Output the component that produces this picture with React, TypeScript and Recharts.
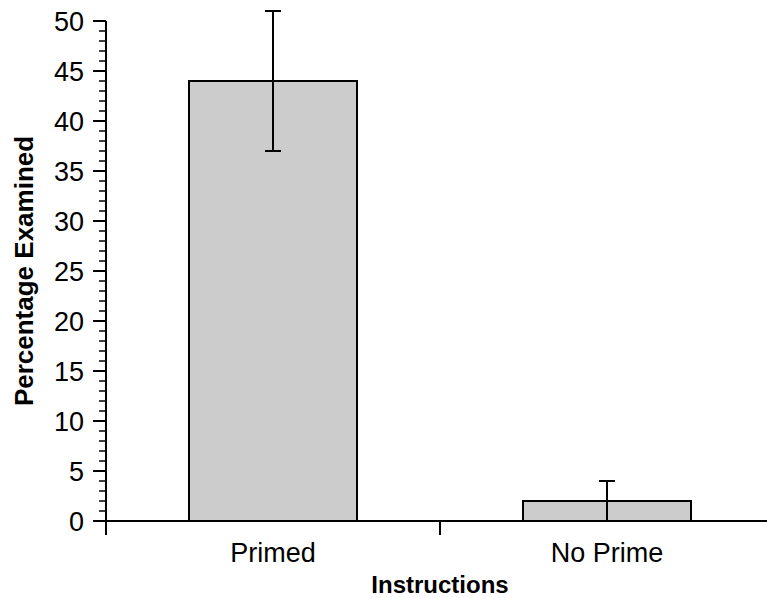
import React from 'react';
import { BarChart, Bar, XAxis, YAxis, ErrorBar } from 'recharts';

const categories = ['Primed', 'No Prime'];
const percentages = [44, 2];
const errorLow = [7, 2];
const errorHigh = [7, 2];
const majorTickValues = [0, 5, 10, 15, 20, 25, 30, 35, 40, 45, 50];
const yTicks = Array.from({ length: 51 }, (_, i) => i);

const data = categories.map((name, i) => ({
  name,
  value: percentages[i],
  err: [errorLow[i], errorHigh[i]],
}));

const CHART_W = 780;
const CHART_H = 598;
const MARGIN = { top: 21, right: 6, bottom: 0, left: 0 };
const Y_AXIS_W = 106;
const X_AXIS_H = 77;
const PLOT_W = CHART_W - MARGIN.left - MARGIN.right - Y_AXIS_W;
const BAND = PLOT_W / categories.length;
const FONT = '"Liberation Sans", Arial, Helvetica, sans-serif';

const YTick = (props: any) => {
  const { x, y, payload } = props;
  const v = payload.value;
  const major = majorTickValues.includes(v);
  return (
    <g>
      <line x1={x - (major ? 13 : 7)} y1={y} x2={x} y2={y} stroke="#000" strokeWidth={major ? 2 : 1.5} />
      {major && (
        <text x={x - 22} y={y} dy="0.36em" textAnchor="end" fontSize={27} fontFamily={FONT} fill="#000">
          {v}
        </text>
      )}
    </g>
  );
};

const XTick = (props: any) => {
  const { x, y, payload } = props;
  return (
    <g>
      <line x1={x - BAND / 2} y1={y} x2={x - BAND / 2} y2={y + 14} stroke="#000" strokeWidth={2} />
      <text x={x} y={y + 41} textAnchor="middle" fontSize={27} fontFamily={FONT} fill="#000">
        {payload.value}
      </text>
    </g>
  );
};

const XLabel = (props: any) => {
  const vb = props.viewBox || {};
  const cx = vb.x + vb.width / 2;
  return (
    <text x={cx} y={vb.y + 72} textAnchor="middle" fontSize={24} fontWeight="bold" fontFamily={FONT} fill="#000">
      Instructions
    </text>
  );
};

const YLabel = (props: any) => {
  const vb = props.viewBox || {};
  const cy = vb.y + vb.height / 2;
  const cx = 33;
  return (
    <text
      x={cx}
      y={cy}
      transform={`rotate(-90, ${cx}, ${cy})`}
      textAnchor="middle"
      fontSize={26}
      fontWeight="bold"
      fontFamily={FONT}
      fill="#000"
    >
      Percentage Examined
    </text>
  );
};

export default function App() {
  return (
    <div
      style={{
        position: 'absolute',
        left: 0,
        top: 0,
        width: 767,
        height: 598,
        overflow: 'hidden',
        background: '#fff',
      }}
    >
      <BarChart width={CHART_W} height={CHART_H} data={data} margin={MARGIN}>
        <XAxis
          dataKey="name"
          height={X_AXIS_H}
          axisLine={{ stroke: '#000', strokeWidth: 2 }}
          tickLine={false}
          tickSize={0}
          tickMargin={0}
          tick={<XTick />}
          interval={0}
          label={<XLabel />}
        />
        <YAxis
          width={Y_AXIS_W}
          domain={[0, 50]}
          ticks={yTicks}
          interval={0}
          allowDataOverflow
          axisLine={{ stroke: '#000', strokeWidth: 2 }}
          tickLine={false}
          tickSize={0}
          tickMargin={0}
          tick={<YTick />}
          label={<YLabel />}
        />
        <Bar dataKey="value" fill="#cccccc" stroke="#000" strokeWidth={2} barSize={168} isAnimationActive={false}>
          <ErrorBar dataKey="err" width={8} stroke="#000" strokeWidth={2} direction="y" isAnimationActive={false} />
        </Bar>
      </BarChart>
    </div>
  );
}
